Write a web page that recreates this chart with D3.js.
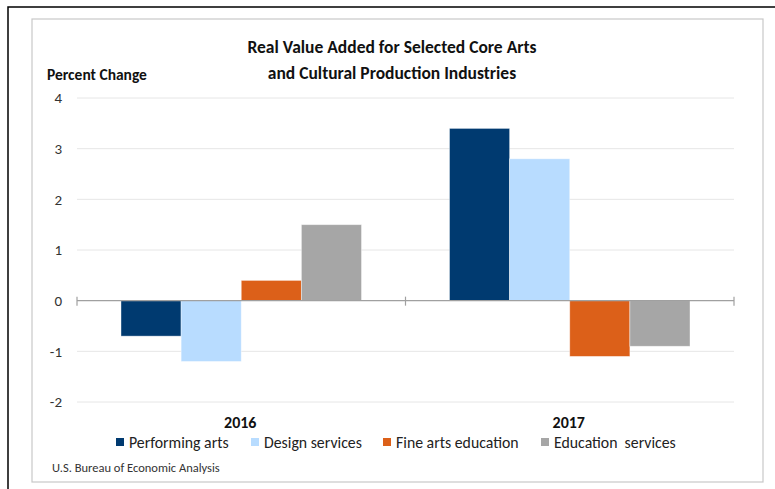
<!DOCTYPE html>
<html>
<head>
<meta charset="utf-8">
<script src="https://cdn.jsdelivr.net/npm/d3@7"></script>
<style>
  body { margin: 0; background: #fff; }
  svg { font-family: Carlito, Lato, "Open Sans", sans-serif; }
</style>
</head>
<body>
<svg id="chart" width="775" height="489"></svg>
<script>
const years = ['2016', '2017'];
const series = ['Performing arts', 'Design services', 'Fine arts education', 'Education  services'];
const colors = ['#003a70', '#b8dcff', '#dc6019', '#a6a6a6'];
const values = [
    [-0.7, 3.4],   // Performing arts
    [-1.2, 2.8],   // Design services
    [0.4, -1.1],   // Fine arts education
    [1.5, -0.9]    // Education services
];
const yTicks = [4, 3, 2, 1, 0, -1, -2];
const titleLines = ['Real Value Added for Selected Core Arts', 'and Cultural Production Industries'];

const svg = d3.select('#chart');

// outer frame + inner chart border
svg.append('rect').attr('x', 8).attr('y', 7).attr('width', 800).attr('height', 500)
    .attr('fill', 'none').attr('stroke', '#000').attr('stroke-width', 1.5);
svg.append('rect').attr('x', 32).attr('y', 19).attr('width', 731).attr('height', 463)
    .attr('fill', '#fff').attr('stroke', '#c8c8c8').attr('stroke-width', 1.2);

const x0 = d3.scaleBand().domain(years).range([77, 734]);
const gap = 44;
const x1 = d3.scaleBand().domain(series).range([gap, x0.bandwidth() - gap]);
const y = d3.scaleLinear().domain([-2, 4]).range([402, 98]);

// gridlines
svg.append('g').selectAll('line')
    .data(yTicks.filter(d => d !== 0))
    .join('line')
    .attr('x1', 77).attr('x2', 734)
    .attr('y1', d => y(d)).attr('y2', d => y(d))
    .attr('stroke', '#e6e6e6').attr('stroke-width', 1);

// y tick labels
svg.append('g').selectAll('text')
    .data(yTicks)
    .join('text')
    .attr('x', 62).attr('y', d => y(d))
    .attr('dy', '0.35em')
    .attr('text-anchor', 'end')
    .attr('font-size', 15)
    .attr('fill', '#333')
    .text(d => d);

// bars
const groups = svg.append('g').selectAll('g')
    .data(years)
    .join('g')
    .attr('transform', d => `translate(${x0(d)},0)`);

groups.selectAll('rect')
    .data((yr, i) => series.map((s, j) => ({ s, j, v: values[j][i] })))
    .join('rect')
    .attr('x', d => x1(d.s))
    .attr('width', x1.bandwidth())
    .attr('y', d => y(Math.max(0, d.v)))
    .attr('height', d => Math.abs(y(d.v) - y(0)))
    .attr('fill', d => colors[d.j])
    .attr('stroke', '#fff').attr('stroke-opacity', 0.5).attr('stroke-width', 0.8);

// zero axis with category ticks
svg.append('line').attr('x1', 77).attr('x2', 734).attr('y1', y(0)).attr('y2', y(0))
    .attr('stroke', '#a0a0a0').attr('stroke-width', 1.2);
svg.append('g').selectAll('line')
    .data([77, x0('2017'), 734])
    .join('line')
    .attr('x1', d => d).attr('x2', d => d)
    .attr('y1', y(0) - 4).attr('y2', y(0) + 5)
    .attr('stroke', '#a0a0a0').attr('stroke-width', 1.2);

// category labels
svg.append('g').selectAll('text')
    .data(years)
    .join('text')
    .attr('x', d => x0(d) + x0.bandwidth() / 2 - 1)
    .attr('y', 422).attr('dy', '0.35em')
    .attr('text-anchor', 'middle')
    .attr('font-size', 16).attr('font-weight', 'bold')
    .attr('fill', '#111')
    .text(d => d);

// title
svg.append('g').selectAll('text')
    .data(titleLines)
    .join('text')
    .attr('x', 392).attr('y', (d, i) => 47 + i * 26).attr('dy', '0.35em')
    .attr('text-anchor', 'middle')
    .attr('font-size', 17.5).attr('font-weight', 'bold')
    .attr('fill', '#111')
    .text(d => d);

svg.append('text').attr('x', 47).attr('y', 75).attr('dy', '0.35em')
    .attr('font-size', 15.5).attr('font-weight', 'bold').attr('fill', '#111')
    .text('Percent Change');

// legend
const legendX = [116, 251, 383, 541];
const leg = svg.append('g').selectAll('g')
    .data(series)
    .join('g')
    .attr('transform', (d, i) => `translate(${legendX[i]},442)`);
leg.append('rect').attr('x', 0).attr('y', -4).attr('width', 8).attr('height', 8)
    .attr('fill', (d, i) => colors[i]);
leg.append('text').attr('x', 13).attr('y', 0).attr('dy', '0.35em')
    .attr('font-size', 15.8).attr('fill', '#222')
    .style('white-space', 'pre')
    .text(d => d);

svg.append('text').attr('x', 52).attr('y', 468).attr('dy', '0.35em')
    .attr('font-size', 12.5).attr('fill', '#333')
    .text('U.S. Bureau of Economic Analysis');
</script>
</body>
</html>
